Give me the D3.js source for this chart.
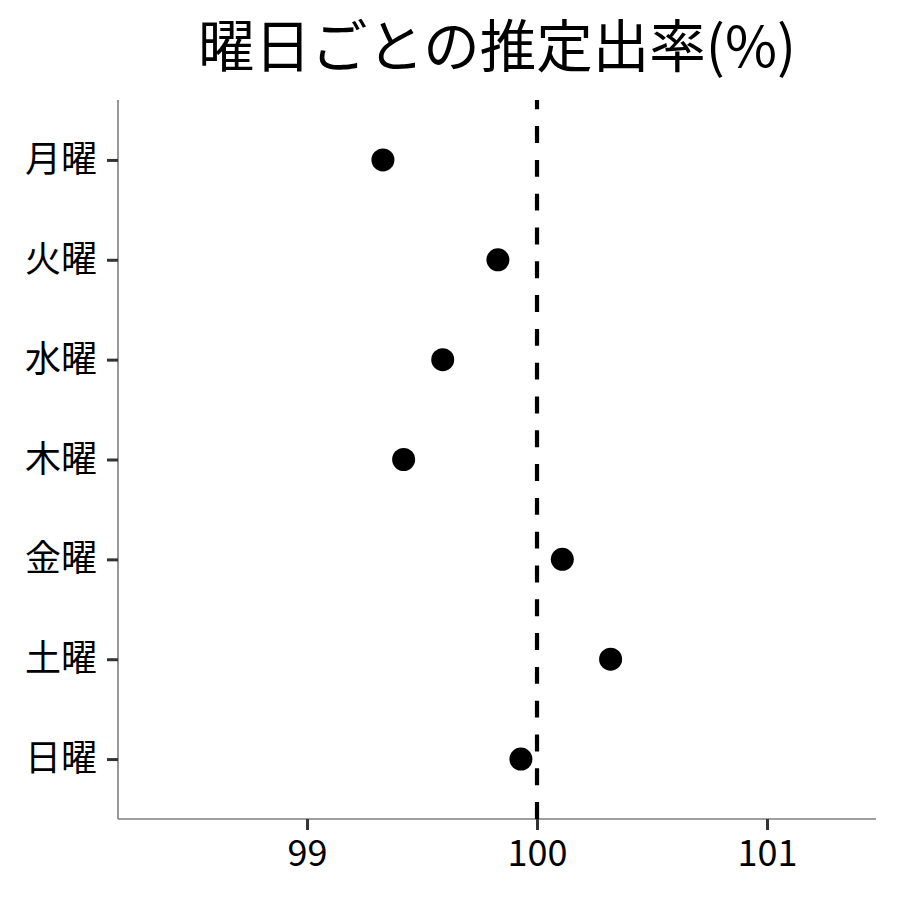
<!DOCTYPE html>
<html><head><meta charset="utf-8">
<script src="https://cdn.jsdelivr.net/npm/d3@7"></script>
<style>body{margin:0;background:#fff;} svg{display:block;font-family:"Noto Sans CJK JP","Noto Sans",sans-serif;}</style>
</head><body>
<script>
const days = ["月曜","火曜","水曜","木曜","金曜","土曜","日曜"];
const values = [99.33, 99.83, 99.59, 99.42, 100.11, 100.32, 99.93];
const xTicks = [99, 100, 101];
const refValue = 100;
const title = "曜日ごとの推定出率(%)";

const W = 900, H = 900;
const m = {left:118, right:876, top:100, bottom:819};
const svg = d3.select("body").append("svg").attr("width",W).attr("height",H);

const x = d3.scaleLinear().domain([98.178, 101.474]).range([m.left, m.right]);
const y = d3.scalePoint().domain(days).range([m.top, m.bottom]).padding(0.6);

// axes
const xa = svg.append("g").attr("transform",`translate(0,${m.bottom})`)
  .call(d3.axisBottom(x).tickValues(xTicks).tickSize(11).tickPadding(10).tickFormat(d3.format("d")));
const ya = svg.append("g").attr("transform",`translate(${m.left},0)`)
  .call(d3.axisLeft(y).tickSize(11).tickPadding(10));
[xa, ya].forEach(g=>{
  g.select(".domain").attr("stroke","#7f7f7f").attr("stroke-width",1.6);
  g.selectAll(".tick line").attr("stroke","#333").attr("stroke-width",3);
  g.selectAll(".tick text").attr("fill","#000").style("font-size","36px")
   .style("font-family",'"Noto Sans CJK JP","Noto Sans",sans-serif');
});
xa.select(".domain").attr("d",`M${m.left},0H${m.right}`);
ya.select(".domain").attr("d",`M0,${m.top}V${m.bottom}`);

// reference line (drawn bottom to top)
svg.append("line")
  .attr("x1",x(refValue)).attr("x2",x(refValue))
  .attr("y1",m.bottom).attr("y2",m.top)
  .attr("stroke","#000").attr("stroke-width",4.2)
  .attr("stroke-dasharray","16.9,16.9");

// points
svg.append("g").selectAll("circle").data(days).join("circle")
  .attr("cx",(d,i)=>x(values[i])).attr("cy",d=>y(d))
  .attr("r",11.5).attr("fill","#000");

// title
svg.append("text").attr("x",(m.left+m.right)/2).attr("y",67)
  .attr("text-anchor","middle").style("font-size","56.5px").attr("fill","#000")
  .text(title);
</script>
</body></html>
